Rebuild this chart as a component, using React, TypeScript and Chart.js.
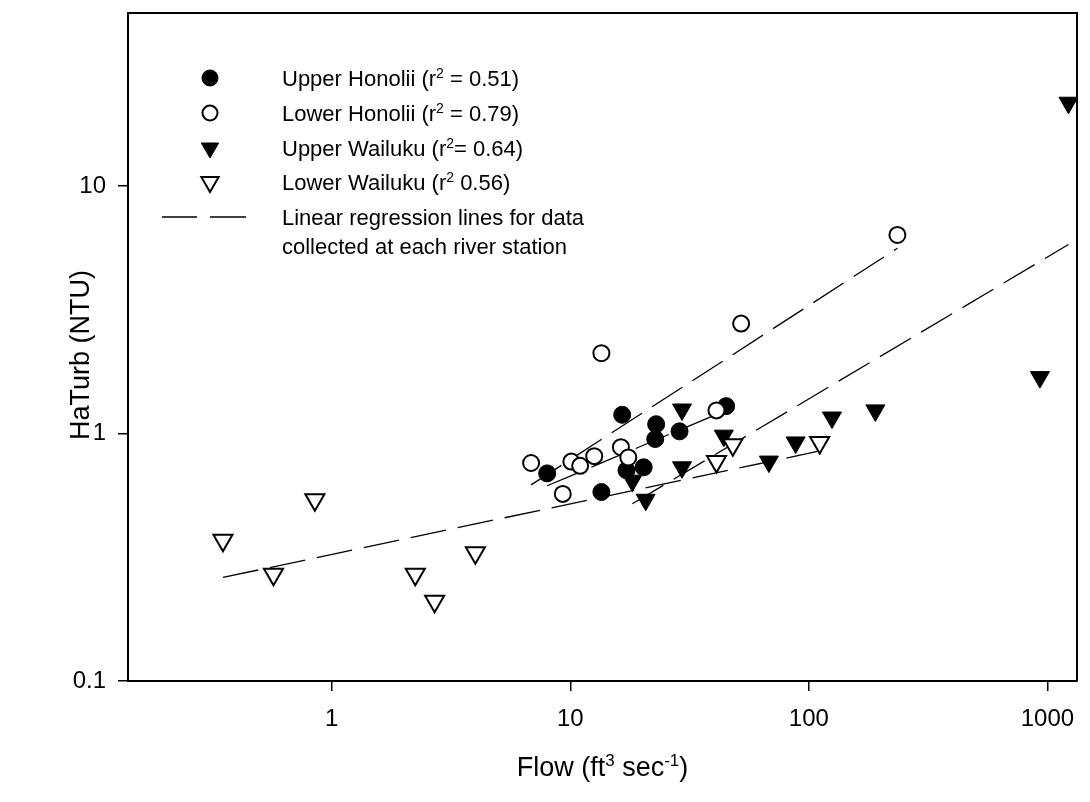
import React, { useEffect, useRef } from "react";
import { Chart, registerables } from "chart.js";

Chart.register(...registerables);

// ---- Data ----
const upperHonoliiFlow = [8.0, 13.5, 16.5, 17.2, 20.3, 22.9, 22.7, 28.7, 45];
const upperHonoliiTurb = [0.69, 0.58, 1.19, 0.71, 0.73, 1.09, 0.95, 1.02, 1.29];

const lowerHonoliiFlow = [6.85, 9.3, 10.1, 11, 12.6, 13.5, 16.3, 17.5, 41, 52, 235];
const lowerHonoliiTurb = [0.76, 0.57, 0.77, 0.74, 0.81, 2.11, 0.88, 0.8, 1.24, 2.78, 6.34];

const upperWailukuFlow = [18.2, 20.7, 29.4, 29.4, 44, 68, 88, 125, 190, 930, 1225];
const upperWailukuTurb = [0.645, 0.54, 0.73, 1.25, 0.98, 0.77, 0.92, 1.16, 1.24, 1.69, 21.7];

const lowerWailukuFlow = [0.35, 0.57, 0.85, 2.24, 2.7, 4.0, 41, 48, 111];
const lowerWailukuTurb = [0.37, 0.27, 0.54, 0.27, 0.21, 0.33, 0.77, 0.9, 0.92];

// regression line end points
const regUpperHonoliiFlow = [8.0, 45];
const regUpperHonoliiTurb = [0.615, 1.24];
const regLowerHonoliiFlow = [6.85, 235];
const regLowerHonoliiTurb = [0.62, 5.6];
const regUpperWailukuFlow = [18.2, 1225];
const regUpperWailukuTurb = [0.52, 5.8];
const regLowerWailukuFlow = [0.35, 111];
const regLowerWailukuTurb = [0.262, 0.85];

const xTicks = [1, 10, 100, 1000];
const xTickLabels = ["1", "10", "100", "1000"];
const yTicks = [0.1, 1, 10];
const yTickLabels = ["0.1", "1", "10"];

const xMin = 0.14;
const xMax = 1330;
const yMin = 0.1;
const yMax = 50;

const FONT = "'Liberation Sans', Arial, sans-serif";

type Part = { t: string; sup?: boolean };

function richWidth(ctx: CanvasRenderingContext2D, parts: Part[], size: number) {
  let w = 0;
  for (const p of parts) {
    ctx.font = `${p.sup ? Math.round(size * 0.62) : size}px ${FONT}`;
    w += ctx.measureText(p.t).width;
  }
  return w;
}

function drawRich(
  ctx: CanvasRenderingContext2D,
  parts: Part[],
  x: number,
  y: number,
  size: number
) {
  let cx = x;
  ctx.textBaseline = "alphabetic";
  ctx.textAlign = "left";
  for (const p of parts) {
    const s = p.sup ? Math.round(size * 0.62) : size;
    ctx.font = `${s}px ${FONT}`;
    ctx.fillText(p.t, cx, p.sup ? y - size * 0.38 : y);
    cx += ctx.measureText(p.t).width;
  }
}

const legendRows: { marker: string; parts: Part[] }[] = [
  { marker: "filledCircle", parts: [{ t: "Upper Honolii (r" }, { t: "2", sup: true }, { t: " = 0.51)" }] },
  { marker: "openCircle", parts: [{ t: "Lower Honolii (r" }, { t: "2", sup: true }, { t: " = 0.79)" }] },
  { marker: "filledTri", parts: [{ t: "Upper Wailuku (r" }, { t: "2", sup: true }, { t: "= 0.64)" }] },
  { marker: "openTri", parts: [{ t: "Lower Wailuku (r" }, { t: "2", sup: true }, { t: " 0.56)" }] },
];

function drawMarker(ctx: CanvasRenderingContext2D, kind: string, x: number, y: number) {
  ctx.save();
  ctx.strokeStyle = "#000";
  ctx.fillStyle = kind.startsWith("filled") ? "#000" : "#fff";
  ctx.lineWidth = kind.startsWith("filled") ? 1 : 2;
  ctx.beginPath();
  if (kind.endsWith("Circle")) {
    const r = kind.startsWith("filled") ? 8 : 7.5;
    ctx.arc(x, y, r, 0, Math.PI * 2);
  } else {
    const r = 10;
    ctx.moveTo(x, y + r);
    ctx.lineTo(x - r * Math.sin(Math.PI / 3), y - r / 2);
    ctx.lineTo(x + r * Math.sin(Math.PI / 3), y - r / 2);
    ctx.closePath();
  }
  ctx.fill();
  ctx.stroke();
  ctx.restore();
}

const decorPlugin = {
  id: "decor",
  afterDraw(chart: any) {
    const ctx: CanvasRenderingContext2D = chart.ctx;
    const a = chart.chartArea;
    ctx.save();
    // frame top & right
    ctx.strokeStyle = "#000";
    ctx.lineWidth = 2;
    ctx.beginPath();
    ctx.moveTo(a.left, a.top);
    ctx.lineTo(a.right, a.top);
    ctx.lineTo(a.right, a.bottom);
    ctx.stroke();

    ctx.fillStyle = "#000";
    // legend
    const mx = 210;
    const tx = 282;
    const rowY = [78, 113, 148, 182];
    const fs = 22;
    legendRows.forEach((row, i) => {
      drawMarker(ctx, row.marker, mx, rowY[i]);
      drawRich(ctx, row.parts, tx, rowY[i] + 8, fs);
    });
    const dy = 217;
    ctx.lineWidth = 1.3;
    ctx.beginPath();
    ctx.moveTo(162, dy);
    ctx.lineTo(197, dy);
    ctx.moveTo(210, dy);
    ctx.lineTo(246, dy);
    ctx.stroke();
    drawRich(ctx, [{ t: "Linear regression lines for data" }], tx, dy + 8, fs);
    drawRich(ctx, [{ t: "collected at each river station" }], tx, dy + 8 + 29, fs);

    // x title
    const xs = 27;
    const xParts: Part[] = [{ t: "Flow (ft" }, { t: "3", sup: true }, { t: " sec" }, { t: "-1", sup: true }, { t: ")" }];
    const xw = richWidth(ctx, xParts, xs);
    drawRich(ctx, xParts, (a.left + a.right) / 2 - xw / 2, 776, xs);

    // y title
    ctx.save();
    ctx.translate(80, (a.top + a.bottom) / 2 + 8);
    ctx.rotate(-Math.PI / 2);
    const yParts: Part[] = [{ t: "HaTurb (NTU)" }];
    const yw = richWidth(ctx, yParts, xs);
    drawRich(ctx, yParts, -yw / 2, 9, xs);
    ctx.restore();

    ctx.restore();
  },
};

export default function App() {
  const ref = useRef<HTMLCanvasElement>(null);

  useEffect(() => {
    document.body.style.margin = "0";
    const pts = (xs: number[], ys: number[]) => xs.map((x, i) => ({ x, y: ys[i] }));
    const reg = (xs: number[], ys: number[], label: string) => ({
      label,
      data: pts(xs, ys),
      showLine: true,
      borderColor: "#000",
      borderWidth: 1.3,
      borderDash: [36, 12],
      pointRadius: 0,
      fill: false,
      order: 10,
    });

    const chart = new Chart(ref.current as HTMLCanvasElement, {
      type: "scatter",
      data: {
        datasets: [
          reg(regUpperHonoliiFlow, regUpperHonoliiTurb, "reg UH"),
          reg(regLowerHonoliiFlow, regLowerHonoliiTurb, "reg LH"),
          reg(regUpperWailukuFlow, regUpperWailukuTurb, "reg UW"),
          reg(regLowerWailukuFlow, regLowerWailukuTurb, "reg LW"),
          {
            label: "Upper Honolii",
            data: pts(upperHonoliiFlow, upperHonoliiTurb),
            pointStyle: "circle",
            pointRadius: 8.5,
            backgroundColor: "#000",
            borderColor: "#000",
            borderWidth: 1,
            order: 4,
          },
          {
            label: "Lower Honolii",
            data: pts(lowerHonoliiFlow, lowerHonoliiTurb),
            pointStyle: "circle",
            pointRadius: 8,
            backgroundColor: "#fff",
            borderColor: "#000",
            borderWidth: 2,
            order: 3,
          },
          {
            label: "Upper Wailuku",
            data: pts(upperWailukuFlow, upperWailukuTurb),
            pointStyle: "triangle",
            rotation: 180,
            pointRadius: 11,
            backgroundColor: "#000",
            borderColor: "#000",
            borderWidth: 1,
            order: 2,
          },
          {
            label: "Lower Wailuku",
            data: pts(lowerWailukuFlow, lowerWailukuTurb),
            pointStyle: "triangle",
            rotation: 180,
            pointRadius: 11,
            backgroundColor: "#fff",
            borderColor: "#000",
            borderWidth: 2,
            order: 1,
          },
        ] as any,
      },
      options: {
        responsive: false,
        animation: false,
        devicePixelRatio: 1,
        layout: { padding: { top: 10, right: 8, left: 0, bottom: 0 } },
        plugins: {
          legend: { display: false },
          tooltip: { enabled: false },
          title: { display: false },
        },
        scales: {
          x: {
            type: "logarithmic",
            min: xMin,
            max: xMax,
            afterBuildTicks: (s: any) => {
              s.ticks = xTicks.map((v) => ({ value: v }));
            },
            afterFit: (s: any) => {
              s.height = 121;
              s.paddingLeft = 0;
              s.paddingRight = 0;
            },
            ticks: {
              autoSkip: false,
              maxRotation: 0,
              padding: 14,
              color: "#000",
              font: { family: FONT, size: 24 },
              callback: (v: any) => {
                const i = xTicks.indexOf(Number(v));
                return i >= 0 ? xTickLabels[i] : "";
              },
            },
            grid: {
              display: true,
              drawOnChartArea: false,
              drawTicks: true,
              tickLength: 10,
              color: "#000",
              lineWidth: 1.5,
            },
            border: { display: true, color: "#000", width: 2 },
          },
          y: {
            type: "logarithmic",
            min: yMin,
            max: yMax,
            afterBuildTicks: (s: any) => {
              s.ticks = yTicks.map((v) => ({ value: v }));
            },
            afterFit: (s: any) => {
              s.width = 128;
              s.paddingTop = 0;
              s.paddingBottom = 0;
            },
            ticks: {
              autoSkip: false,
              padding: 12,
              color: "#000",
              font: { family: FONT, size: 24 },
              callback: (v: any) => {
                const i = yTicks.indexOf(Number(v));
                return i >= 0 ? yTickLabels[i] : "";
              },
            },
            grid: {
              display: true,
              drawOnChartArea: false,
              drawTicks: true,
              tickLength: 10,
              color: "#000",
              lineWidth: 1.5,
            },
            border: { display: true, color: "#000", width: 2 },
          },
        },
      },
      plugins: [decorPlugin],
    } as any);

    return () => chart.destroy();
  }, []);

  return (
    <canvas
      ref={ref}
      width={1090}
      height={802}
      style={{ display: "block", width: 1090, height: 802 }}
    />
  );
}
